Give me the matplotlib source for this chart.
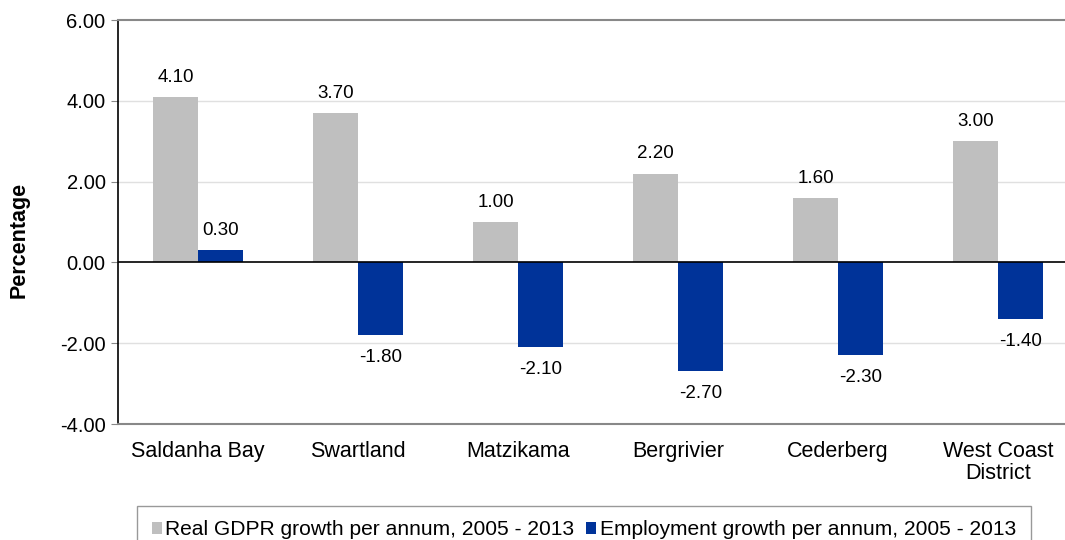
import numpy as np
import matplotlib
matplotlib.use('Agg')
import matplotlib.pyplot as plt

plt.rcParams['font.family'] = ['Liberation Sans', 'DejaVu Sans']

# data
regions = ['Saldanha Bay', 'Swartland', 'Matzikama', 'Bergrivier', 'Cederberg', 'West Coast\nDistrict']
gdpr = [4.10, 3.70, 1.00, 2.20, 1.60, 3.00]
employment = [0.30, -1.80, -2.10, -2.70, -2.30, -1.40]
labels = ['Real GDPR growth per annum, 2005 - 2013', 'Employment growth per annum, 2005 - 2013']

fig = plt.figure(figsize=(10.65, 5.4), dpi=100)
ax = fig.add_axes([118 / 1065, 116 / 540, 960 / 1065, 404 / 540])

x = np.arange(len(regions))
w = 0.28
b1 = ax.bar(x - w / 2, gdpr, w, color='#bfbfbf', label=labels[0], zorder=3)
b2 = ax.bar(x + w / 2, employment, w, color='#003399', label=labels[1], zorder=3)

# value labels
for xi, v in zip(x - w / 2, gdpr):
    ax.annotate(f'{v:.2f}', (xi, v), xytext=(0, 8), textcoords='offset points',
                ha='center', va='bottom', fontsize=13.5)
for xi, v in zip(x + w / 2, employment):
    off = 8 if v >= 0 else -10
    ax.annotate(f'{v:.2f}', (xi, v), xytext=(0, off), textcoords='offset points',
                ha='center', va='bottom' if v >= 0 else 'top', fontsize=13.5)

ax.set_xlim(-0.5, len(regions) - 0.5)
ax.set_ylim(-4, 6)
ax.set_yticks(np.arange(-4, 7, 2))
ax.set_yticklabels([f'{t:.2f}' for t in np.arange(-4, 7, 2)], fontsize=14.5)
ax.set_xticks(x)
ax.set_xticklabels(regions, fontsize=15.5, linespacing=1.1)
ax.tick_params(axis='x', length=0, pad=12)
ax.tick_params(axis='y', length=5, color='#888888', direction='out', pad=4)

for yv in [-2, 2, 4]:
    ax.axhline(yv, color='#e0e0e0', lw=1, zorder=1)
ax.axhline(0, color='black', lw=1.2, zorder=4)

ax.spines['left'].set_color('black')
ax.spines['left'].set_linewidth(1.2)
ax.spines['top'].set_color('#888888')
ax.spines['top'].set_linewidth(1.5)
ax.spines['bottom'].set_color('#888888')
ax.spines['bottom'].set_linewidth(1.5)
ax.spines['right'].set_visible(False)

ax.set_ylabel('Percentage', fontsize=15.5, fontweight='bold')
ax.yaxis.set_label_coords(-0.092, 0.455)

leg = fig.legend(handles=[b1, b2], labels=labels, loc='lower left',
                 bbox_to_anchor=(137 / 1065, -14 / 540), ncol=2, fontsize=15.1,
                 frameon=True, fancybox=False, edgecolor='#808080',
                 handlelength=0.5, handleheight=0.5, handletextpad=0.15,
                 columnspacing=0.55, borderpad=0.7, borderaxespad=0)
leg.get_frame().set_linewidth(1.0)

fig.savefig('out.png', dpi=100)
